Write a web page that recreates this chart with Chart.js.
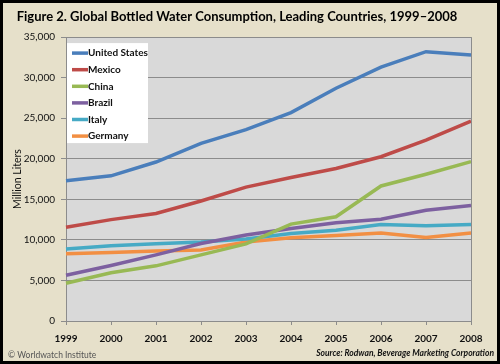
<!DOCTYPE html>
<html>
<head>
<meta charset="utf-8">
<style>
  html, body { margin: 0; padding: 0; background: #e6e0ca; }
  #frame {
    position: absolute; left: 0; top: 0;
    width: 500px; height: 364px;
    box-sizing: border-box;
    border: 3px solid #000;
    background: #e6e0ca;
  }
  #frame canvas { display: block; }
</style>
</head>
<body>
<div id="frame">
  <canvas id="myChart" width="494" height="358"></canvas>
</div>

<script src="https://cdn.jsdelivr.net/npm/chart.js@4"></script>
<script>
    // values, million liters
    const years = ['1999', '2000', '2001', '2002', '2003', '2004', '2005', '2006', '2007', '2008'];
    const unitedStates = [17300, 17900, 19600, 21900, 23600, 25700, 28700, 31300, 33200, 32800];
    const mexico       = [11550, 12500, 13250, 14800, 16500, 17700, 18800, 20250, 22300, 24650];
    const china        = [4650, 5950, 6800, 8150, 9500, 11950, 12850, 16650, 18100, 19650];
    const brazil       = [5650, 6850, 8150, 9550, 10600, 11400, 12100, 12550, 13650, 14250];
    const italy        = [8870, 9280, 9530, 9750, 10100, 10800, 11200, 11900, 11750, 11900];
    const germany      = [8300, 8450, 8630, 8750, 9750, 10250, 10550, 10850, 10300, 10850];

    const seriesNames = ['United States', 'Mexico', 'China', 'Brazil', 'Italy', 'Germany'];
    const seriesColors = ['#4a7ebb', '#be4b48', '#98b954', '#7d60a0', '#46aac5', '#f28f43'];
    const seriesData = [unitedStates, mexico, china, brazil, italy, germany];

    const gridColor = '#8c8c8c';
    const fontFamily = 'Lato, "Noto Sans", sans-serif';

    // plot background + border, legend box and the two footnotes
    const decorations = {
        id: 'decorations',
        beforeDraw(chart) {
            const { ctx, chartArea: a } = chart;
            ctx.save();
            ctx.fillStyle = '#d9d9d9';
            ctx.fillRect(a.left, a.top, a.right - a.left, a.bottom - a.top);
            ctx.restore();
        },
        afterDatasetsDraw(chart) {
            const { ctx, chartArea: a } = chart;
            ctx.save();
            ctx.strokeStyle = gridColor;
            ctx.lineWidth = 1;
            ctx.beginPath();
            ctx.moveTo(a.right + 0.5, a.top);
            ctx.lineTo(a.right + 0.5, a.bottom);
            ctx.stroke();

            // legend
            const bx = a.left + 1, by = a.top + 6, bw = 81, bh = 100;
            ctx.fillStyle = '#ffffff';
            ctx.fillRect(bx, by, bw, bh);
            ctx.font = 'bold 10px ' + fontFamily;
            ctx.textBaseline = 'middle';
            chart.data.datasets.forEach((ds, i) => {
                const y = by + 10 + i * 16.6;
                ctx.strokeStyle = ds.borderColor;
                ctx.lineWidth = 3.5;
                ctx.beginPath();
                ctx.moveTo(bx + 5, y);
                ctx.lineTo(bx + 21, y);
                ctx.stroke();
                ctx.fillStyle = '#111';
                ctx.fillText(ds.label, bx + 21, y);
            });

            // footnotes
            ctx.textBaseline = 'alphabetic';
            ctx.fillStyle = '#111';
            ctx.font = 'italic bold 8.5px ' + fontFamily;
            ctx.textAlign = 'right';
            ctx.fillText('Source: Rodwan, Beverage Marketing Corporation', chart.width - 3, chart.height - 5);
            ctx.fillStyle = '#555';
            ctx.font = '8.5px ' + fontFamily;
            ctx.textAlign = 'left';
            ctx.fillText('\u00a9 Worldwatch Institute', 5, chart.height - 3);
            ctx.restore();
        }
    };

    const ctx = document.getElementById('myChart');

    const chart = new Chart(ctx, {
        type: 'line',
        data: {
            labels: years,
            datasets: seriesNames.map((name, i) => ({
                label: name,
                data: seriesData[i],
                borderColor: seriesColors[i],
                backgroundColor: seriesColors[i],
                borderWidth: 3.5,
                pointRadius: 0,
                tension: 0
            }))
        },
        options: {
            responsive: false,
            animation: false,
            layout: { padding: { left: 0, right: 26, top: 0, bottom: 0 } },
            plugins: {
                legend: { display: false },
                tooltip: { enabled: false },
                title: {
                    display: true,
                    text: 'Figure 2. Global Bottled Water Consumption, Leading Countries, 1999\u20132008',
                    color: '#000',
                    font: { family: fontFamily, size: 13, weight: 'bold' },
                    padding: { top: 6, bottom: 12.5 }
                }
            },
            scales: {
                x: {
                    offset: false,
                    grid: {
                        drawOnChartArea: false,
                        drawTicks: true,
                        tickLength: 4,
                        color: gridColor
                    },
                    border: { color: gridColor },
                    ticks: {
                        color: '#111',
                        padding: 8,
                        maxRotation: 0,
                        font: { family: fontFamily, size: 10, weight: 'bold' }
                    },
                    afterFit(scale) { scale.height = 40; }
                },
                y: {
                    min: 0,
                    max: 35000,
                    grid: {
                        color: gridColor,
                        tickLength: 5
                    },
                    border: { color: gridColor },
                    ticks: {
                        stepSize: 5000,
                        color: '#111',
                        padding: 6,
                        font: { family: fontFamily, size: 10 },
                        callback: v => v.toLocaleString('en-US')
                    },
                    title: {
                        display: true,
                        text: 'Million Liters',
                        color: '#111',
                        font: { family: fontFamily, size: 10.5 },
                        padding: { top: 8, bottom: 2 }
                    },
                    afterFit(scale) { scale.width = 63; }
                }
            }
        },
        plugins: [decorations]
    });
</script>
</body>
</html>
